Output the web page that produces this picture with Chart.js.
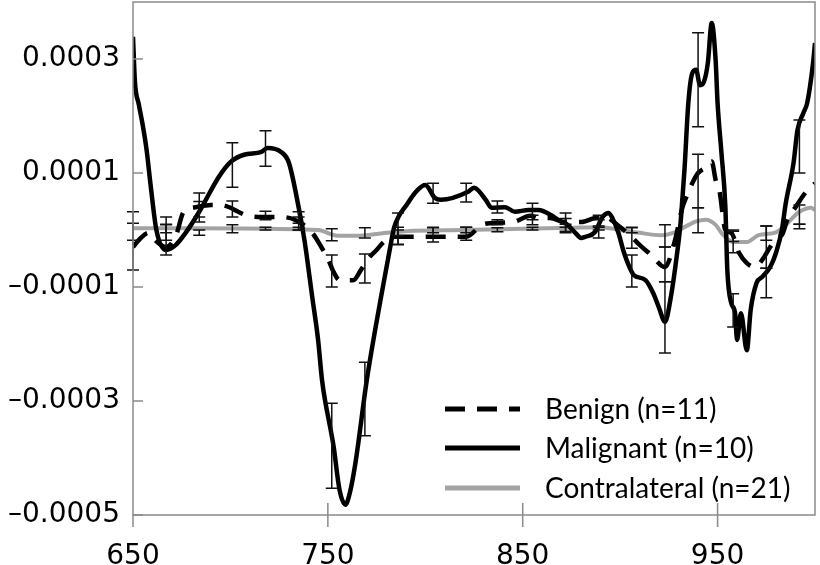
<!DOCTYPE html>
<html>
<head>
<meta charset="utf-8">
<script src="https://cdn.jsdelivr.net/npm/chart.js@4"></script>
<style>
  body { margin: 0; background: #fff; }
  canvas { display: block; }
</style>
</head>
<body>
<canvas id="chart" width="820" height="565"></canvas>
<script>
// values are in units of 1e-4 (labels are formatted back to 0.000x)
const seriesNames = ['Benign (n=11)', 'Malignant (n=10)', 'Contralateral (n=21)'];

const xTicks = [650, 750, 850, 950];
const yTicks = [-5, -3, -1, 1, 3];

const benignWl = [650, 654, 658, 662, 667, 672, 676, 682, 690, 695, 700, 704, 709, 717, 724, 733, 742, 747, 750, 753, 756, 763, 767, 771, 775, 779, 784, 795, 812, 821, 829, 833, 845, 854, 858, 864, 872, 880, 887, 892, 900, 905, 909, 916, 923, 928, 932, 934, 937, 940, 945, 947, 949, 951, 954, 957, 961, 965, 969, 973, 977, 981, 983, 986, 990, 995, 1000];
const benignVal = [-0.30, -0.14, -0.05, -0.20, -0.30, -0.10, 0.32, 0.40, 0.44, 0.44, 0.39, 0.32, 0.25, 0.23, 0.23, 0.18, -0.05, -0.32, -0.50, -0.74, -0.88, -0.88, -0.70, -0.49, -0.35, -0.20, -0.12, -0.12, -0.12, -0.12, 0.09, 0.12, 0.14, 0.25, 0.21, 0.21, 0.14, 0.14, 0.21, 0.23, 0.05, -0.09, -0.23, -0.44, -0.65, -0.20, 0.40, 0.58, 0.82, 1.00, 1.12, 1.20, 0.88, 0.68, 0.00, -0.05, -0.40, -0.58, -0.65, -0.52, -0.30, -0.12, -0.09, 0.20, 0.40, 0.65, 0.82];

const malignantWl = [650, 651, 653, 655, 657, 659, 662, 667, 672, 677, 684, 694, 700, 707, 716, 719, 726, 730, 735, 738, 742, 745, 747, 753, 756, 759, 761, 764, 770, 777, 782, 784, 791, 796, 800, 805, 808, 822, 825, 831, 834, 841, 846, 853, 858, 866, 869, 873, 877, 880, 882, 887, 891, 894, 896, 899, 902, 905, 907, 913, 917, 920, 923, 926, 929, 931, 932, 933, 935, 937, 939, 941, 943, 945, 947, 949, 950, 952, 954, 955, 957, 959, 960, 962, 965, 967, 970, 973, 977, 980, 983, 985, 989, 991, 994, 996, 999, 1000];
const malignantVal = [3.39, 2.60, 2.20, 1.84, 1.40, 0.80, 0.00, -0.35, -0.26, -0.05, 0.32, 0.93, 1.19, 1.32, 1.37, 1.44, 1.37, 1.18, 0.40, -0.18, -1.18, -1.93, -2.63, -3.81, -4.56, -4.82, -4.65, -4.12, -2.63, -1.23, -0.30, 0.04, 0.47, 0.70, 0.79, 0.56, 0.53, 0.67, 0.74, 0.53, 0.39, 0.40, 0.32, 0.35, 0.35, 0.23, 0.16, 0.09, -0.05, -0.14, -0.12, -0.04, 0.23, 0.30, 0.21, -0.04, -0.40, -0.67, -0.79, -0.88, -1.11, -1.37, -1.61, -1.18, -0.47, 0.12, 0.58, 1.05, 2.23, 2.75, 2.81, 2.54, 2.60, 2.93, 3.63, 2.98, 2.23, 1.35, 0.40, -0.70, -1.28, -1.46, -1.93, -1.46, -2.11, -1.40, -0.93, -0.82, -0.65, -0.40, 0.00, 0.47, 1.18, 1.75, 2.05, 2.23, 2.93, 3.28];

const contraWl = [650, 680, 720, 745, 755, 765, 775, 790, 820, 850, 875, 890, 900, 910, 921, 928, 933, 939, 944, 949, 952, 958, 965, 971, 980, 985, 989, 992, 998, 1000];
const contraVal = [0.03, 0.03, 0.02, 0.00, -0.10, -0.10, -0.07, -0.02, 0.00, 0.02, 0.04, 0.05, 0.00, -0.05, -0.09, -0.04, 0.05, 0.15, 0.18, 0.09, -0.05, -0.21, -0.21, -0.09, -0.04, 0.09, 0.23, 0.32, 0.39, 0.35];

// error bars: [low, high] at these wavelengths
const errWl = [650, 667, 684, 701, 718, 735, 752, 769, 786, 804, 821, 837, 855, 872, 889, 906, 923, 940, 958, 975, 992];
const benignErr = [[-0.70, 0.12], [-0.18, 0.23], [0.23, 0.65], [0.23, 0.51], [0.18, 0.33], [0.12, 0.23], [-1.00, -0.44], [-0.93, -0.42], [-0.25, 0.00], [-0.21, 0.04], [-0.18, 0.05], [0.09, 0.18], [0.09, 0.26], [-0.05, 0.20], [0.05, 0.26], [-0.32, 0.04], [-0.91, -0.30], [0.39, 1.33], [-0.40, -0.02], [-0.67, 0.07], [0.10, 0.44]];
const malignantErr = [null, [-0.44, 0.09], [0.14, 0.50], [0.75, 1.53], [1.12, 1.74], [0.00, 0.32], [-4.53, -3.04], [-3.61, -2.32], [-0.26, 0.30], [0.47, 0.82], [0.49, 0.82], [0.30, 0.51], [0.18, 0.47], [0.10, 0.30], [-0.14, 0.18], [-1.00, -0.44], [-2.16, -0.91], [1.81, 3.46], [-1.70, -1.12], [-1.19, -0.67], [1.00, 1.93]];
const contraErr = [[-0.18, 0.32], [-0.05, 0.10], [-0.09, 0.00], [-0.05, 0.09], [0.00, 0.05], [0.00, 0.05], [-0.19, 0.02], [-0.14, 0.04], [-0.10, 0.05], [-0.05, 0.05], [-0.05, 0.05], [-0.03, 0.04], [0.00, 0.05], [-0.02, 0.05], [0.00, 0.07], [-0.05, 0.05], [-0.30, 0.09], [-0.05, 0.39], [-0.20, 0.00], [-0.18, 0.07], [0.02, 0.10]];

const seriesColors = ['#000000', '#000000', '#a3a3a3'];
const frameColor = '#8a8a8a';

function toPoints(xs, ys) {
  return xs.map((x, i) => ({ x: x, y: ys[i] }));
}

const errorBars = {
  id: 'errorBars',
  afterDatasetsDraw(chart) {
    const ctx = chart.ctx;
    const xs = chart.scales.x, ys = chart.scales.y;
    const sets = [benignErr, malignantErr, contraErr];
    ctx.save();
    ctx.strokeStyle = '#111';
    ctx.lineWidth = 1.5;
    sets.forEach(set => {
      set.forEach((e, i) => {
        if (!e) return;
        const px = xs.getPixelForValue(errWl[i]);
        const lo = ys.getPixelForValue(e[0]);
        const hi = ys.getPixelForValue(e[1]);
        ctx.beginPath();
        ctx.moveTo(px, lo); ctx.lineTo(px, hi);
        ctx.moveTo(px - 6, lo); ctx.lineTo(px + 6, lo);
        ctx.moveTo(px - 6, hi); ctx.lineTo(px + 6, hi);
        ctx.stroke();
      });
    });
    ctx.restore();
  }
};

const frameAndLegend = {
  id: 'frameAndLegend',
  afterDraw(chart) {
    const ctx = chart.ctx;
    const a = chart.chartArea;
    const xs = chart.scales.x, ys = chart.scales.y;
    ctx.save();
    ctx.strokeStyle = frameColor;
    ctx.lineWidth = 1.5;
    ctx.strokeRect(a.left, a.top, a.right - a.left, a.bottom - a.top);
    ctx.beginPath();
    xTicks.forEach(v => {
      const px = xs.getPixelForValue(v);
      ctx.moveTo(px, v === xTicks[0] ? a.bottom : a.bottom - 12);
      ctx.lineTo(px, a.bottom + 12);
    });
    yTicks.forEach(v => {
      const py = ys.getPixelForValue(v);
      ctx.moveTo(a.left, py);
      ctx.lineTo(a.left + 10, py);
    });
    ctx.stroke();

    // legend
    const rows = [409, 448, 488];
    ctx.font = '28px Lato';
    ctx.textBaseline = 'middle';
    ctx.fillStyle = '#000';
    chart.data.datasets.forEach((ds, i) => {
      ctx.beginPath();
      ctx.strokeStyle = ds.borderColor;
      ctx.lineWidth = 5;
      ctx.setLineDash(ds.borderDash || []);
      ctx.moveTo(445, rows[i]);
      ctx.lineTo(520, rows[i]);
      ctx.stroke();
      ctx.setLineDash([]);
      ctx.fillText(seriesNames[i], 545, rows[i] + 1);
    });
    ctx.restore();
  }
};

const tickFont = { family: 'DejaVu Sans', size: 28 };

new Chart(document.getElementById('chart'), {
  type: 'line',
  data: {
    datasets: [
      {
        label: seriesNames[0],
        data: toPoints(benignWl, benignVal),
        borderColor: seriesColors[0],
        borderWidth: 4.5,
        borderDash: [20, 12],
        cubicInterpolationMode: 'monotone'
      },
      {
        label: seriesNames[1],
        data: toPoints(malignantWl, malignantVal),
        borderColor: seriesColors[1],
        borderWidth: 4.5,
        cubicInterpolationMode: 'monotone'
      },
      {
        label: seriesNames[2],
        data: toPoints(contraWl, contraVal),
        borderColor: seriesColors[2],
        borderWidth: 4,
        cubicInterpolationMode: 'monotone'
      }
    ]
  },
  options: {
    responsive: false,
    animation: false,
    layout: { padding: { top: 2, right: 5, left: 0, bottom: 0 } },
    elements: { point: { radius: 0 } },
    plugins: {
      legend: { display: false },
      tooltip: { enabled: false }
    },
    scales: {
      x: {
        type: 'linear',
        min: 650,
        max: 1000,
        grid: { display: false },
        border: { display: false },
        afterBuildTicks: s => { s.ticks = xTicks.map(v => ({ value: v })); },
        afterFit: s => {
          s.height = 50;
          s.paddingLeft = s.paddingRight = 0;
        },
        ticks: { font: tickFont, color: '#000', padding: 17, maxRotation: 0, autoSkip: false }
      },
      y: {
        min: -5,
        max: 4,
        grid: { display: false },
        border: { display: false },
        afterBuildTicks: s => { s.ticks = yTicks.map(v => ({ value: v })); },
        afterFit: s => {
          s.width = 133;
          s.paddingTop = s.paddingBottom = 0;
        },
        ticks: {
          font: tickFont,
          color: '#000',
          padding: 5,
          callback: v => (v < 0 ? '\u2013' : '') + (Math.abs(v) / 10000).toFixed(4)
        }
      }
    }
  },
  plugins: [errorBars, frameAndLegend]
});
</script>
</body>
</html>
